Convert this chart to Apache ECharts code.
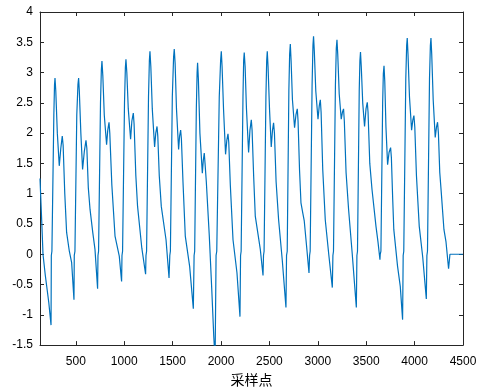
<!DOCTYPE html>
<html>
<head>
<meta charset="utf-8">
<script src="https://cdn.jsdelivr.net/npm/echarts@6/dist/echarts.min.js"></script>
<style>
  html, body { margin: 0; padding: 0; background: #fff; }
  #chart { width: 481px; height: 392px; }
</style>
</head>
<body>
<div id="chart"></div>
<script>
// 采样点 (x) 与信号幅值 (y)，按每个心动周期分行
const sampleX = [
  130, 149, 161, 185, 221, 244, 247, 253, 273, 280, 285, 293, 309, 329, 345, 360, 369, 386, 405, 433, 457, 481,
  484, 491, 510, 522, 529, 536, 552, 570, 588, 605, 614, 629, 647, 676, 698, 725,
  729, 735, 755, 764, 770, 779, 794, 818, 830, 843, 851, 872, 905, 949, 973,
  977, 983, 1003, 1012, 1018, 1027, 1042, 1066, 1079, 1094, 1102, 1120, 1138, 1182, 1221,
  1225, 1231, 1251, 1260, 1266, 1275, 1290, 1314, 1326, 1339, 1347, 1362, 1383, 1432, 1463,
  1471, 1477, 1497, 1510, 1517, 1526, 1540, 1562, 1572, 1583, 1591, 1607, 1631, 1676, 1714,
  1722, 1728, 1745, 1753, 1758, 1766, 1782, 1807, 1817, 1827, 1835, 1848, 1879, 1905, 1925, 1939,
  1949, 1956, 1982, 1996, 2003, 2011, 2026, 2047, 2060, 2072, 2080, 2096, 2124, 2165, 2196,
  2202, 2208, 2227, 2234, 2240, 2249, 2263, 2285, 2299, 2313, 2321, 2337, 2354, 2406, 2434,
  2439, 2445, 2464, 2472, 2478, 2486, 2501, 2519, 2532, 2543, 2552, 2569, 2595, 2633, 2671,
  2677, 2684, 2701, 2709, 2716, 2724, 2738, 2760, 2774, 2788, 2796, 2811, 2826, 2845, 2860, 2886, 2909,
  2915, 2921, 2941, 2950, 2956, 2964, 2979, 3002, 3015, 3026, 3034, 3051, 3077, 3113, 3150,
  3156, 3162, 3182, 3191, 3198, 3206, 3221, 3242, 3255, 3266, 3274, 3292, 3318, 3356, 3398,
  3404, 3410, 3428, 3435, 3441, 3449, 3464, 3483, 3498, 3511, 3519, 3537, 3560, 3601, 3622, 3642,
  3645, 3652, 3670, 3677, 3684, 3692, 3704, 3721, 3736, 3752, 3760, 3774, 3785, 3824, 3852, 3876,
  3882, 3888, 3909, 3918, 3924, 3932, 3947, 3969, 3982, 3993, 4002, 4019, 4048, 4084, 4121,
  4127, 4133, 4154, 4163, 4169, 4177, 4192, 4213, 4226, 4237, 4246, 4260, 4276, 4303, 4324, 4351, 4365, 4500
];
const signalY = [
  1.25, 0.5, 0.0, -0.35, -0.8, -1.17, -0.02, 0.05, 2.3, 2.8, 2.91, 2.7, 2.0, 1.46, 1.75, 1.95, 1.8, 1.0, 0.36, 0.05, -0.14, -0.75,
  -0.02, 0.05, 2.3, 2.8, 2.91, 2.7, 2.0, 1.40, 1.7, 1.88, 1.75, 1.1, 0.74, 0.35, 0.08, -0.57,
  -0.02, 0.05, 2.5, 3.05, 3.19, 2.95, 2.3, 1.81, 2.05, 2.18, 2.0, 1.15, 0.30, -0.03, -0.45,
  -0.02, 0.05, 2.5, 3.08, 3.22, 3.0, 2.4, 1.90, 2.2, 2.33, 2.15, 1.3, 0.79, 0.1, -0.33,
  -0.02, 0.05, 2.6, 3.2, 3.35, 3.1, 2.4, 1.77, 2.0, 2.11, 1.95, 1.3, 0.79, 0.24, -0.39,
  -0.02, 0.05, 2.6, 3.25, 3.39, 3.15, 2.4, 1.73, 1.95, 2.05, 1.9, 1.2, 0.30, -0.20, -0.90,
  -0.02, 0.05, 2.4, 3.0, 3.16, 2.9, 2.0, 1.34, 1.55, 1.67, 1.5, 1.2, 0.3, -0.6, -1.35, -1.75,
  -0.02, 0.05, 2.6, 3.2, 3.35, 3.1, 2.4, 1.65, 1.88, 1.99, 1.85, 1.15, 0.24, -0.31, -1.03,
  -0.02, 0.05, 2.6, 3.2, 3.33, 3.1, 2.4, 1.68, 2.05, 2.22, 2.05, 1.3, 0.63, 0.08, -0.35,
  -0.02, 0.05, 2.6, 3.2, 3.35, 3.1, 2.4, 1.77, 2.05, 2.17, 2.0, 1.2, 0.57, -0.1, -0.88,
  -0.02, 0.05, 2.7, 3.3, 3.47, 3.2, 2.55, 2.09, 2.3, 2.40, 2.2, 1.4, 0.85, 0.68, 0.55, 0.1, -0.31,
  -0.02, 0.05, 2.8, 3.45, 3.60, 3.35, 2.7, 2.23, 2.45, 2.55, 2.35, 1.4, 0.57, 0.0, -0.55,
  -0.02, 0.05, 2.8, 3.4, 3.54, 3.3, 2.65, 2.23, 2.35, 2.40, 2.2, 1.35, 0.74, 0.0, -0.88,
  -0.02, 0.05, 2.7, 3.2, 3.34, 3.1, 2.5, 2.11, 2.4, 2.51, 2.35, 1.5, 1.07, 0.46, 0.2, -0.09,
  0.0, 0.05, 2.5, 2.98, 3.11, 2.85, 2.1, 1.48, 1.68, 1.76, 1.6, 0.9, 0.41, -0.20, -0.53, -1.08,
  -0.02, 0.05, 2.9, 3.45, 3.57, 3.3, 2.6, 2.05, 2.22, 2.29, 2.1, 1.3, 0.46, -0.05, -0.74,
  -0.02, 0.05, 2.9, 3.45, 3.57, 3.3, 2.55, 1.93, 2.1, 2.18, 2.0, 1.35, 1.01, 0.41, 0.21, -0.24, 0.0, 0.0
];
const xTicks = [500, 1000, 1500, 2000, 2500, 3000, 3500, 4000, 4500];
const xMin = 130, xMax = 4500;
const yMin = -1.5, yMax = 4, yStep = 0.5;

const axisColor = "#262626";
const labelFont = '"Liberation Sans", Arial, sans-serif';

const chart = echarts.init(document.getElementById("chart"), null, { renderer: "canvas" });

// 上/右两条辅助轴只画刻度，形成 MATLAB 式的边框
const xAxisBase = (pos, showLabel) => ({
  type: "value",
  position: pos,
  min: xMin,
  max: xMax,
  splitLine: { show: false },
  axisLine: { show: true, onZero: false, lineStyle: { color: axisColor, width: 1 } },
  axisTick: { show: true, inside: true, length: 4, customValues: xTicks, lineStyle: { color: axisColor } },
  axisLabel: {
    show: showLabel,
    customValues: xTicks,
    formatter: (v) => String(v),
    color: "#000",
    fontSize: 12,
    fontFamily: labelFont,
    margin: 11,
  },
});
const yAxisBase = (pos, showLabel) => ({
  type: "value",
  position: pos,
  min: yMin,
  max: yMax,
  interval: yStep,
  splitLine: { show: false },
  axisLine: { show: true, onZero: false, lineStyle: { color: axisColor, width: 1 } },
  axisTick: { show: true, inside: true, length: 4, lineStyle: { color: axisColor } },
  axisLabel: {
    show: showLabel,
    formatter: (v) => String(v),
    color: "#000",
    fontSize: 12,
    fontFamily: labelFont,
    margin: 7,
  },
});

const xBottom = xAxisBase("bottom", true);
xBottom.name = "采样点";
xBottom.nameLocation = "middle";
xBottom.nameGap = 27;
xBottom.nameTextStyle = { fontSize: 14, color: "#000", fontFamily: '"Noto Sans CJK SC", sans-serif' };

chart.setOption({
  animation: false,
  backgroundColor: "#fff",
  grid: { left: 40, right: 18, top: 12, bottom: 46 },
  xAxis: [xBottom, xAxisBase("top", false)],
  yAxis: [yAxisBase("left", true), yAxisBase("right", false)],
  series: [
    {
      type: "line",
      xAxisIndex: 0,
      yAxisIndex: 0,
      data: sampleX.map((x, i) => [x, signalY[i]]),
      showSymbol: false,
      clip: true,
      lineStyle: { color: "#0072BD", width: 1.2 },
    },
  ],
});
</script>
</body>
</html>
